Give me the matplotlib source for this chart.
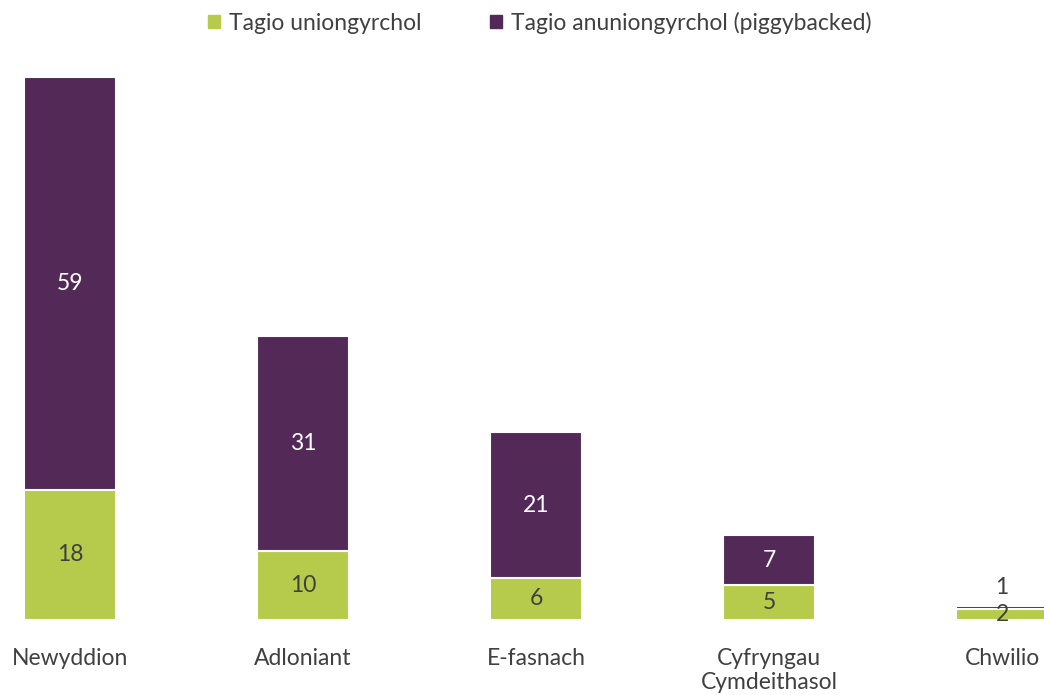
import numpy as np
import matplotlib.pyplot as plt
from matplotlib.patches import Patch

categories = ['Newyddion', 'Adloniant', 'E-fasnach', 'Cyfryngau\nCymdeithasol', 'Chwilio']
direct = [18.5, 9.8, 6, 5, 1.5]
piggy = [58.5, 30.5, 20.6, 7, 0.5]
direct_labels = ['18', '10', '6', '5', '2']
piggy_labels = ['59', '31', '21', '7', '1']

GREEN = '#b6ca4c'
PURPLE = '#532958'
TEXT = '#404040'

plt.rcParams['font.family'] = ['Lato', 'DejaVu Sans']

fig = plt.figure(figsize=(10.44, 6.95), dpi=100)
ax = fig.add_axes([0, 75 / 695, 1, (620 - 56) / 695])

x = np.arange(len(categories))
width = 0.395
b1 = ax.bar(x, direct, width, color=GREEN, edgecolor='white', linewidth=1.5)
b2 = ax.bar(x, piggy, width, bottom=direct, color=PURPLE, edgecolor='white', linewidth=1.5)

for i in range(len(categories)):
    ax.text(x[i], direct[i] / 2, direct_labels[i], ha='center', va='center',
            fontsize=16.5, color=TEXT)
    if piggy[i] >= 3:
        ax.text(x[i], direct[i] + piggy[i] / 2, piggy_labels[i], ha='center', va='center',
                fontsize=16.5, color='white')
    else:
        # tiny segment: label sits above the bar
        ax.text(x[i], direct[i] + piggy[i] + 2.6, piggy_labels[i], ha='center', va='center',
                fontsize=16.5, color=TEXT)

ax.set_xlim(-0.30, 4.18)
ax.set_ylim(0, 80)
ax.set_xticks(x, categories)
ax.tick_params(axis='x', length=0, pad=20, labelsize=16.5, labelcolor=TEXT)
ax.set_yticks([])
for s in ax.spines.values():
    s.set_visible(False)

handles = [Patch(color=GREEN, label='Tagio uniongyrchol'),
           Patch(color=PURPLE, label='Tagio anuniongyrchol (piggybacked)')]
fig.legend(handles=handles, loc='center', bbox_to_anchor=(0.517, 1 - 23 / 695), ncols=2,
           frameon=False, fontsize=16.5, handlelength=0.5, handleheight=0.5,
           handletextpad=0.4, columnspacing=3, labelcolor=TEXT)

plt.savefig('out.png', dpi=100)
